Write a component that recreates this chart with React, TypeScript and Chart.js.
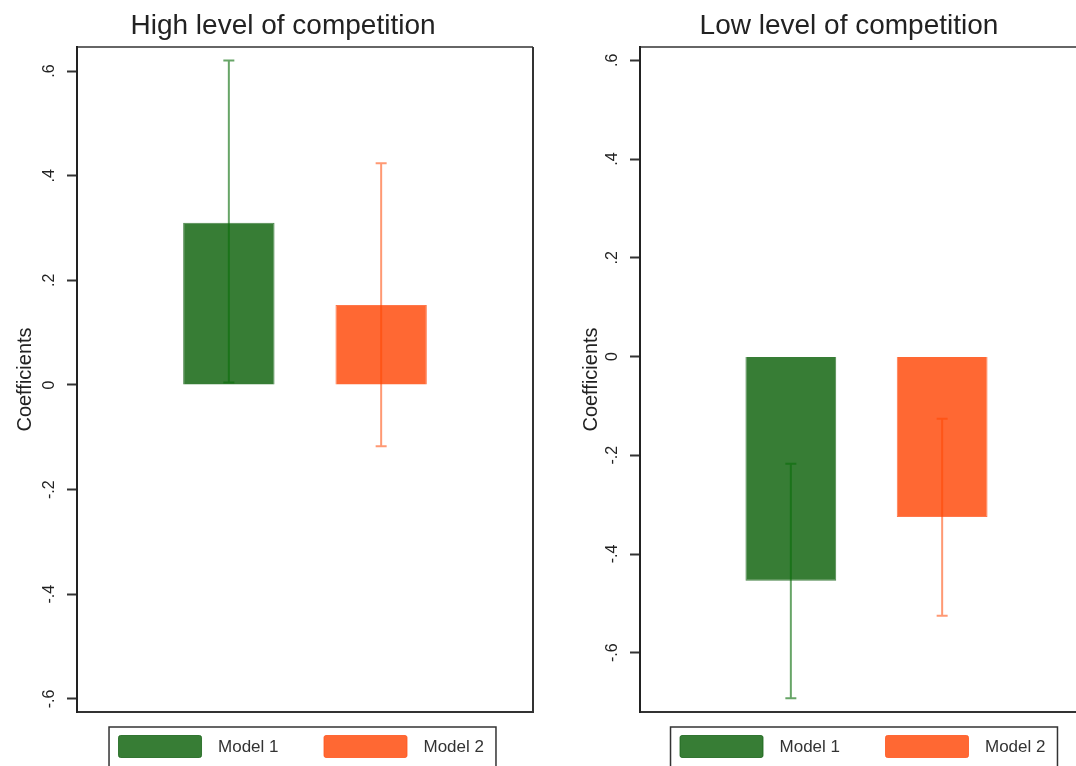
import React, { useEffect, useRef } from 'react';
import { Chart, registerables } from 'chart.js';

Chart.register(...registerables);

// ---- data ----
const MODELS = ['Model 1', 'Model 2'];
const PANEL_TITLES = ['High level of competition', 'Low level of competition'];
const HIGH_COEF = [0.31, 0.153];
const HIGH_CI_LOW = [0.005, -0.117];
const HIGH_CI_HIGH = [0.62, 0.424];
const LOW_COEF = [-0.454, -0.325];
const LOW_CI_LOW = [-0.692, -0.525];
const LOW_CI_HIGH = [-0.217, -0.126];
const TICK_VALUES = [-0.6, -0.4, -0.2, 0, 0.2, 0.4, 0.6];
const TICK_LABELS = ['-.6', '-.4', '-.2', '0', '.2', '.4', '.6'];
const Y_TITLE = 'Coefficients';

// ---- styles ----
const FONT = "'Liberation Sans', Arial, sans-serif";
const FILLS = ['#377d35', '#ff6833'];
const BORDERS = ['rgba(25,100,25,0.8)', 'rgba(255,85,30,0.8)'];
const ERR_COLORS = ['rgba(10,110,10,0.62)', 'rgba(255,70,0,0.55)'];

const errorBarPlugin = {
  id: 'errorBars',
  afterDatasetsDraw(chart: any) {
    const { ctx } = chart;
    const y = chart.scales.y;
    chart.data.datasets.forEach((ds: any, i: number) => {
      const meta = chart.getDatasetMeta(i);
      meta.data.forEach((bar: any, j: number) => {
        const x = bar.x;
        const yl = y.getPixelForValue(ds.ciLow[j]);
        const yh = y.getPixelForValue(ds.ciHigh[j]);
        const cap = 5.5;
        ctx.save();
        ctx.strokeStyle = ds.errorColor;
        ctx.lineWidth = 2;
        ctx.beginPath();
        ctx.moveTo(x, yl);
        ctx.lineTo(x, yh);
        ctx.moveTo(x - cap, yl);
        ctx.lineTo(x + cap, yl);
        ctx.moveTo(x - cap, yh);
        ctx.lineTo(x + cap, yh);
        ctx.stroke();
        ctx.restore();
      });
    });
  },
};

const framePlugin = {
  id: 'frame',
  afterDraw(chart: any) {
    const { ctx, chartArea: a } = chart;
    ctx.save();
    ctx.lineWidth = 2;
    ctx.strokeStyle = '#666';
    ctx.beginPath();
    ctx.moveTo(a.left, a.top);
    ctx.lineTo(a.right, a.top);
    ctx.stroke();
    ctx.strokeStyle = '#333';
    ctx.beginPath();
    ctx.moveTo(a.right, a.top);
    ctx.lineTo(a.right, a.bottom);
    ctx.lineTo(a.left, a.bottom);
    ctx.stroke();
    ctx.strokeStyle = '#222';
    ctx.beginPath();
    ctx.moveTo(a.left, a.top - 1);
    ctx.lineTo(a.left, a.bottom + 1);
    ctx.stroke();
    ctx.restore();
  },
};

const boxLegendPlugin = {
  id: 'boxLegend',
  afterDraw(chart: any) {
    const { ctx, chartArea: a } = chart;
    const sw = 84, sh = 23, textGap = 16, itemGap = 45;
    const top = a.bottom + 15;
    const swTop = top + 8;
    ctx.save();
    ctx.font = `17px ${FONT}`;
    const items = chart.data.datasets.map((ds: any) => ({
      text: ds.label,
      fill: ds.backgroundColor,
      border: ds.borderColor,
      w: ctx.measureText(ds.label).width,
    }));
    let total = 0;
    items.forEach((it: any, i: number) => {
      total += sw + textGap + it.w + (i > 0 ? itemGap : 0);
    });
    let x = (a.left + a.right) / 2 - 4 - total / 2;
    const start = x;
    items.forEach((it: any) => {
      ctx.fillStyle = it.fill;
      ctx.strokeStyle = it.border;
      ctx.lineWidth = 1;
      ctx.beginPath();
      (ctx as any).roundRect(x + 0.5, swTop + 0.5, sw - 1, sh - 1, 2);
      ctx.fill();
      ctx.stroke();
      ctx.fillStyle = '#333';
      ctx.textBaseline = 'middle';
      ctx.textAlign = 'left';
      ctx.fillText(it.text, x + sw + textGap, swTop + sh / 2 + 1);
      x += sw + textGap + it.w + itemGap;
    });
    const end = x - itemGap;
    ctx.strokeStyle = '#333';
    ctx.lineWidth = 1.5;
    ctx.strokeRect(start - 9, top, end - start + 21, 60);
    ctx.restore();
  },
};

type PanelProps = {
  title: string;
  coef: number[];
  lo: number[];
  hi: number[];
  yMin: number;
  yMax: number;
  axisWidth: number;
  padRight: number;
  left: number;
};

function Panel({ title, coef, lo, hi, yMin, yMax, axisWidth, padRight, left }: PanelProps) {
  const ref = useRef<HTMLCanvasElement>(null);
  useEffect(() => {
    if (!ref.current) return;
    Chart.defaults.font.family = FONT;
    const chart = new Chart(ref.current, {
      type: 'bar',
      data: {
        labels: [''],
        datasets: MODELS.map((m, i) => ({
          label: m,
          data: [coef[i]],
          backgroundColor: FILLS[i],
          borderColor: BORDERS[i],
          borderWidth: 1,
          categoryPercentage: 0.668,
          barPercentage: 0.6,
          ciLow: [lo[i]],
          ciHigh: [hi[i]],
          errorColor: ERR_COLORS[i],
        })) as any,
      },
      options: {
        animation: false,
        responsive: false,
        layout: { padding: { left: 0, right: 0, top: 0, bottom: 54 } },
        plugins: {
          legend: { display: false },
          tooltip: { enabled: false },
          title: {
            display: true,
            text: title,
            color: '#222',
            font: { size: 28, weight: 'normal', family: FONT },
            padding: { top: 9, bottom: 4.4 },
          },
        },
        scales: {
          x: { type: 'category', display: false },
          y: {
            type: 'linear',
            min: yMin,
            max: yMax,
            afterBuildTicks: (scale: any) => {
              scale.ticks = TICK_VALUES.map((v) => ({ value: v }));
            },
            afterFit: (scale: any) => {
              scale.width = axisWidth;
            },
            border: { display: false },
            grid: {
              drawOnChartArea: false,
              drawTicks: true,
              tickLength: 10,
              tickColor: '#333',
              tickWidth: 2,
            },
            ticks: {
              autoSkip: false,
              minRotation: 90,
              maxRotation: 90,
              crossAlign: 'center',
              padding: 8,
              color: '#222',
              font: { size: 16, family: FONT },
              callback: (value: any) => {
                const idx = TICK_VALUES.findIndex((t) => Math.abs(t - Number(value)) < 1e-9);
                return idx >= 0 ? TICK_LABELS[idx] : '';
              },
            },
            title: {
              display: true,
              text: Y_TITLE,
              color: '#222',
              font: { size: 20, family: FONT },
              padding: { top: 13, bottom: 0 },
            },
          },
          yRight: {
            type: 'linear',
            position: 'right',
            display: true,
            min: yMin,
            max: yMax,
            grid: { display: false, drawTicks: false },
            border: { display: false },
            ticks: { display: false },
            afterFit: (scale: any) => {
              scale.width = padRight;
            },
          },
        },
      } as any,
      plugins: [errorBarPlugin, framePlugin, boxLegendPlugin],
    });
    return () => chart.destroy();
  }, []);
  return (
    <div style={{ position: 'absolute', left, top: 0, width: 566, height: 766 }}>
      <canvas ref={ref} width={566} height={766} style={{ display: 'block' }} />
    </div>
  );
}

export default function App() {
  return (
    <div
      style={{
        position: 'absolute',
        left: 0,
        top: 0,
        width: 1076,
        height: 766,
        overflow: 'hidden',
        background: '#fff',
      }}
    >
      <Panel
        title={PANEL_TITLES[0]}
        coef={HIGH_COEF}
        lo={HIGH_CI_LOW}
        hi={HIGH_CI_HIGH}
        yMin={-0.625}
        yMax={0.646}
        axisWidth={77}
        padRight={33}
        left={0}
      />
      <Panel
        title={PANEL_TITLES[1]}
        coef={LOW_COEF}
        lo={LOW_CI_LOW}
        hi={LOW_CI_HIGH}
        yMin={-0.72}
        yMax={0.627}
        axisWidth={74}
        padRight={39}
        left={566}
      />
    </div>
  );
}
